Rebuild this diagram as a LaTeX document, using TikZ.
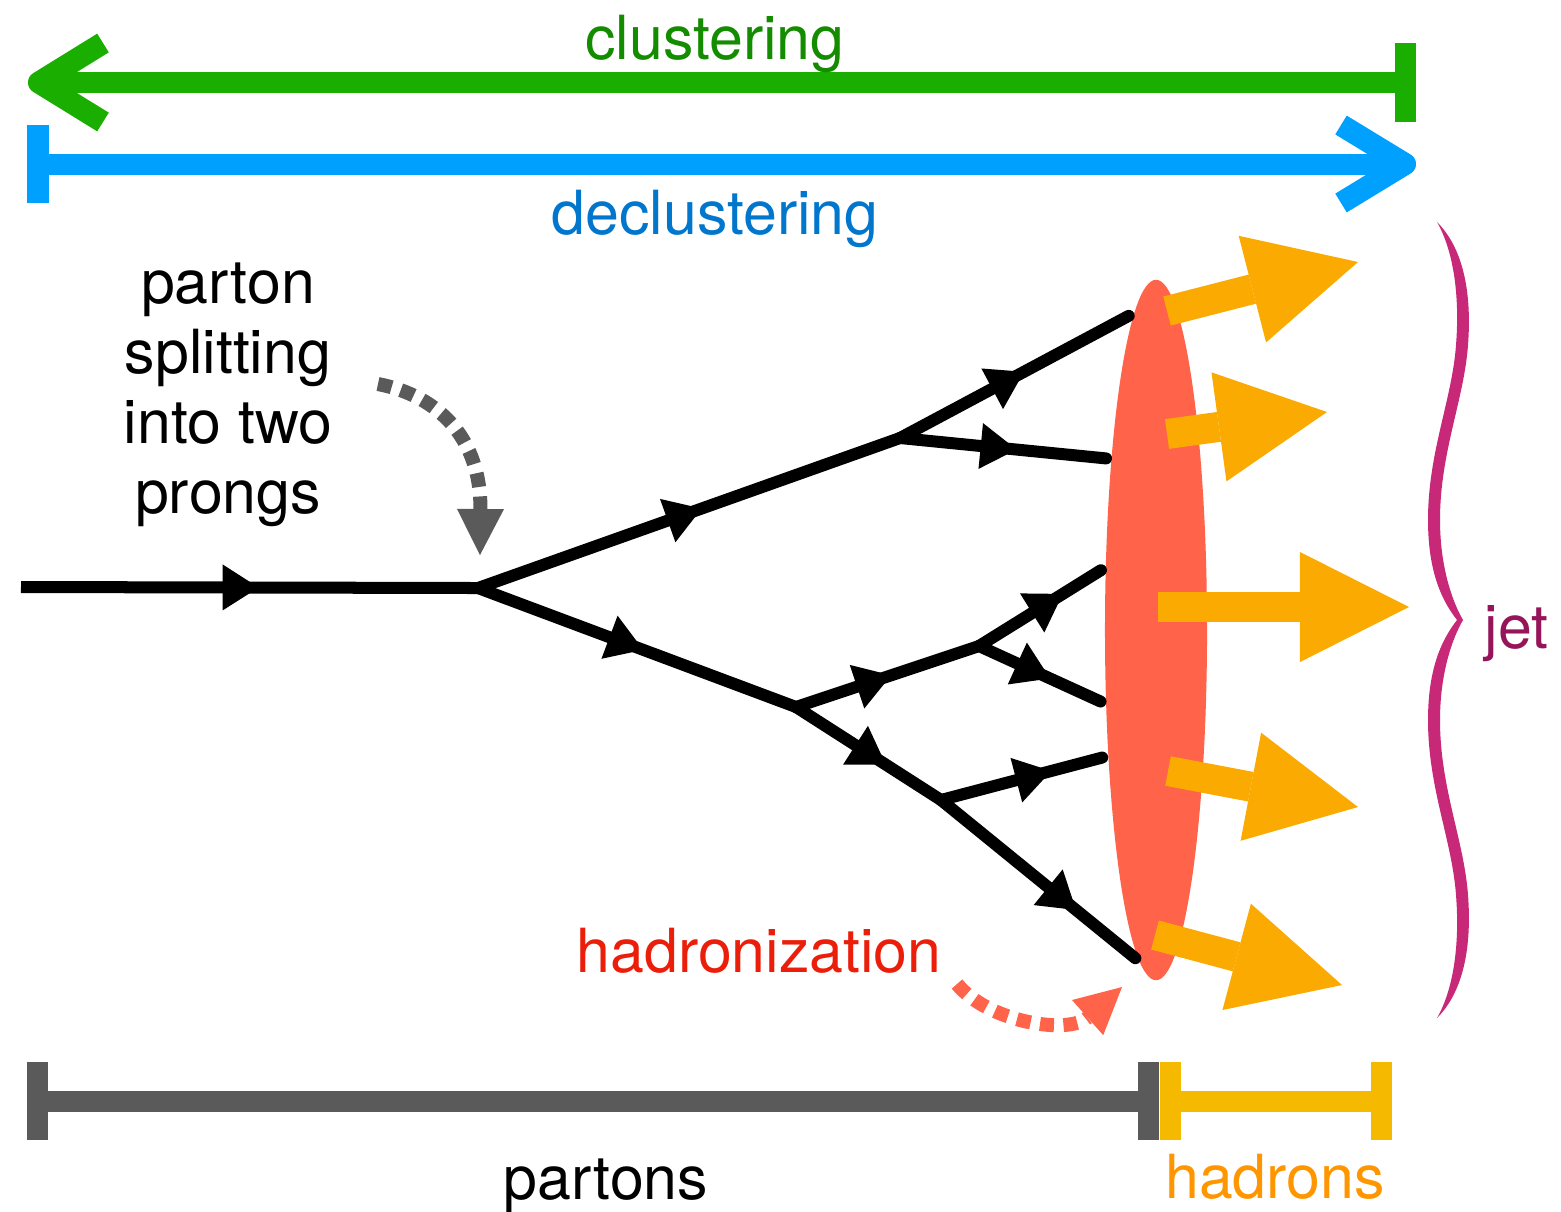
\documentclass[tikz,border=0pt]{standalone}
\usepackage{fontspec}
\setmainfont{TeX Gyre Heros}
\usetikzlibrary{arrows.meta,decorations.markings,shapes.geometric}

\definecolor{clline}{RGB}{26,175,0}
\definecolor{cltext}{RGB}{20,140,0}
\definecolor{dcline}{RGB}{0,160,255}
\definecolor{dctext}{RGB}{0,118,205}
\definecolor{partgray}{RGB}{90,90,90}
\definecolor{hadyellow}{RGB}{245,185,0}
\definecolor{hadtext}{RGB}{255,150,0}
\definecolor{blobred}{RGB}{255,99,74}
\definecolor{hadorange}{RGB}{250,170,0}
\definecolor{hztext}{RGB}{235,30,10}
\definecolor{bracecol}{RGB}{200,40,120}
\definecolor{jettext}{RGB}{150,20,90}

\tikzset{
  lbl/.style={font=\fontsize{17.3}{20}\selectfont, inner sep=0pt, anchor=base},
  bar/.style={line width=0.21cm, line cap=butt},
  chevron/.style={line width=0.22cm, line cap=butt, line join=round},
  parton/.style={line width=0.12cm, line cap=round, black},
  flow/.style={postaction={decorate}, decoration={markings,
      mark=at position #1 with {\arrow{Triangle[length=0.36cm,width=0.46cm,line width=0pt]}}}},
  toblob/.style={shorten >=0.06cm},
  hadarrow/.style={line width=0.3cm, hadorange, line cap=butt,
      -{Triangle[length=1.09cm,width=1.1cm,line width=0pt]}},
  dotarrow/.style={line width=0.14cm, line cap=butt, dash pattern=on 0.14cm off 0.095cm,
      -{Triangle[length=0.46cm,width=0.47cm,line width=0pt]}}
}

\begin{document}
\begin{tikzpicture}[x=0.01cm,y=-0.01cm]
\useasboundingbox (0,0) rectangle (1561,1211);

% clustering arrow (green, pointing left)
\coordinate (cltip) at (39,82.5);
\coordinate (clarmA) at (103,43);
\coordinate (clarmB) at (103,122);
\coordinate (clend) at (1405.5,82.5);
\coordinate (clbarT) at (1405.5,43);
\coordinate (clbarB) at (1405.5,122);
\draw[bar, clline] (cltip) -- (clend);
\draw[bar, clline] (clbarT) -- (clbarB);
\draw[chevron, clline] (clarmA) -- (cltip) -- (clarmB);
\node[lbl, text=cltext] (tclust) at (715,59) {clustering};

% declustering arrow (blue, pointing right)
\coordinate (dcstart) at (38,164);
\coordinate (dcbarT) at (38,125);
\coordinate (dcbarB) at (38,203);
\coordinate (dctip) at (1405,164);
\coordinate (dcarmA) at (1341,125);
\coordinate (dcarmB) at (1341,203);
\draw[bar, dcline] (dcstart) -- (dctip);
\draw[bar, dcline] (dcbarT) -- (dcbarB);
\draw[chevron, dcline] (dcarmA) -- (dctip) -- (dcarmB);
\node[lbl, text=dctext] (tdeclust) at (715,234) {declustering};

% label for the first splitting
\node[lbl] (sp1) at (228,303) {parton};
\node[lbl] (sp2) at (228,373) {splitting};
\node[lbl] (sp3) at (228,443) {into two};
\node[lbl] (sp4) at (228,513) {prongs};

% hadronization region
\node[ellipse, fill=blobred, minimum width=1.02cm, minimum height=7cm, inner sep=0pt] (blob) at (1156,630) {};

% parton shower vertices and end points
\coordinate (v0) at (21,587);
\coordinate (v1) at (478,588);
\coordinate (v2) at (900,438);
\coordinate (v3) at (796,707);
\coordinate (v4) at (979,646);
\coordinate (v5) at (941,800);
\coordinate (e1) at (1134,313);
\coordinate (e2) at (1112,459);
\coordinate (e3) at (1106,567);
\coordinate (e4) at (1106,704);
\coordinate (e5) at (1108,756);
\coordinate (e6) at (1140,962);

\draw[parton, line cap=butt, flow=0.52] (v0) -- (v1);
\draw[parton, flow=0.53] (v1) -- (v2);
\draw[parton, flow=0.52] (v1) -- (v3);
\draw[parton, toblob, flow=0.53] (v2) -- (e1);
\draw[parton, toblob, flow=0.55] (v2) -- (e2);
\draw[parton, flow=0.52] (v3) -- (v4);
\draw[parton, flow=0.62] (v3) -- (v5);
\draw[parton, toblob, flow=0.66] (v4) -- (e3);
\draw[parton, toblob, flow=0.56] (v4) -- (e4);
\draw[parton, toblob, flow=0.66] (v5) -- (e5);
\draw[parton, toblob, flow=0.68] (v5) -- (e6);

% outgoing hadrons
\coordinate (h1s) at (1167,311);  \coordinate (h1t) at (1358,262);
\coordinate (h2s) at (1167,434);  \coordinate (h2t) at (1327,412);
\coordinate (h3s) at (1158,607);  \coordinate (h3t) at (1409,607);
\coordinate (h4s) at (1168,771);  \coordinate (h4t) at (1358,807);
\coordinate (h5s) at (1155,935);  \coordinate (h5t) at (1342,985);
\draw[hadarrow] (h1s) -- (h1t);
\draw[hadarrow] (h2s) -- (h2t);
\draw[hadarrow] (h3s) -- (h3t);
\draw[hadarrow] (h4s) -- (h4t);
\draw[hadarrow] (h5s) -- (h5t);

% dotted pointers
\coordinate (gs) at (378,384);
\coordinate (gt) at (480,555);
\draw[dotarrow, partgray] (gs) .. controls (440,396) and (481,440) .. (gt);
\coordinate (rs) at (957,984);
\coordinate (rt) at (1122,987);
\draw[dotarrow, blobred] (rs) .. controls (988,1022) and (1068,1035) .. (rt);
\node[lbl, text=hztext] (thadron) at (759,972) {hadronization};

% jet brace
\fill[bracecol] (1437,222) .. controls (1463,248) and (1472,292) .. (1468,345)
  .. controls (1464,400) and (1440,452) .. (1440,520)
  .. controls (1440,568) and (1453,603) .. (1463,620)
  .. controls (1453,637) and (1440,672) .. (1440,720)
  .. controls (1440,788) and (1464,840) .. (1468,895)
  .. controls (1472,948) and (1463,992) .. (1437,1018)
  .. controls (1453,990) and (1460,946) .. (1456,895)
  .. controls (1452,840) and (1428,788) .. (1428,720)
  .. controls (1428,666) and (1443,638) .. (1457,620)
  .. controls (1443,602) and (1428,574) .. (1428,520)
  .. controls (1428,452) and (1452,400) .. (1456,345)
  .. controls (1460,294) and (1453,250) .. (1437,222) -- cycle;
\node[lbl, text=jettext, anchor=base west] (tjet) at (1484,648) {jet};

% partons / hadrons ranges
\coordinate (pL) at (37.5,1101);
\coordinate (pLT) at (37.5,1062);
\coordinate (pLB) at (37.5,1140);
\coordinate (pR) at (1148,1101);
\coordinate (pRT) at (1148,1062);
\coordinate (pRB) at (1148,1140);
\draw[bar, partgray] (pL) -- (pR);
\draw[bar, partgray] (pLT) -- (pLB);
\draw[bar, partgray] (pRT) -- (pRB);
\node[lbl] (tpartons) at (606,1199) {partons};

\coordinate (yL) at (1170.5,1101);
\coordinate (yLT) at (1170.5,1062);
\coordinate (yLB) at (1170.5,1140);
\coordinate (yR) at (1381,1101);
\coordinate (yRT) at (1381,1062);
\coordinate (yRB) at (1381,1140);
\draw[bar, hadyellow] (yL) -- (yR);
\draw[bar, hadyellow] (yLT) -- (yLB);
\draw[bar, hadyellow] (yRT) -- (yRB);
\node[lbl, text=hadtext] (thadrons) at (1275,1198) {hadrons};
\end{tikzpicture}
\end{document}
